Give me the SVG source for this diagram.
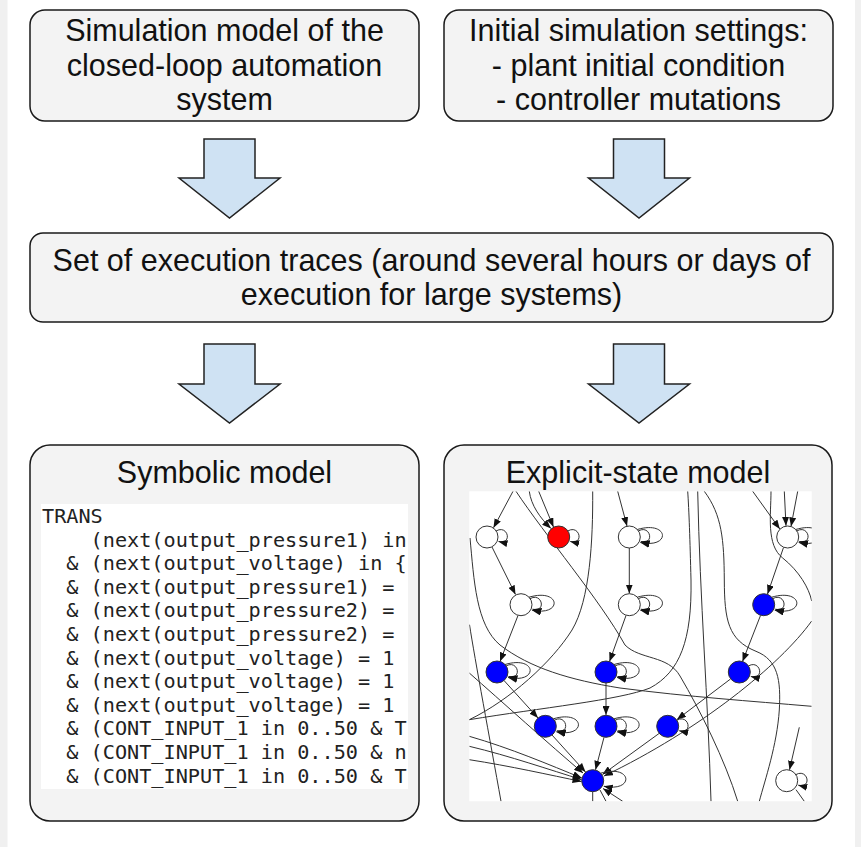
<svg xmlns="http://www.w3.org/2000/svg" xmlns:xlink="http://www.w3.org/1999/xlink" width="861" height="847" viewBox="0 0 861 847">
<style>
.box{fill:#f3f3f3;stroke:#1a1a1a;stroke-width:1.5}
.t{font-family:"Liberation Sans",Arial,sans-serif;font-size:30.5px;fill:#111;text-anchor:middle}
.code{font-family:"DejaVu Sans Mono",monospace;font-size:20.2px;fill:#222}
.blk{fill:#cfe2f3;stroke:#222;stroke-width:1.5;stroke-linejoin:miter}
.e{fill:none;stroke:#333;stroke-width:1}
.ea{fill:none;stroke:#333;stroke-width:1;marker-end:url(#ah)}
.nw{fill:#fff;stroke:#333;stroke-width:1}
.nb{fill:#0000ff;stroke:#333;stroke-width:1}
.nr{fill:#ff0000;stroke:#333;stroke-width:1}
</style>
<defs>
<marker id="ah" markerUnits="userSpaceOnUse" markerWidth="9" markerHeight="7" refX="9" refY="3.5" orient="auto">
<path d="M0,0 L9,3.5 L0,7 z" fill="#111"/>
</marker>
<path id="loopS" class="ea" d="M9,-6 C21,-13 26,8 11.5,4.5"/>
<g id="loopD">
<path class="ea" d="M9,-6 C21,-13 26,8 11.5,4.5"/>
<path class="ea" d="M8,-7.5 C40,-17 42,12 11,5.5"/>
</g>
<path id="loopL" class="ea" d="M8,-7.5 C40,-17 42,12 11,5.5"/>
<clipPath id="gclip"><rect x="469.3" y="491.3" width="342.4" height="310"/></clipPath>
<clipPath id="cclip"><rect x="41" y="504" width="367" height="285"/></clipPath>
</defs>

<rect x="0" y="0" width="861" height="847" fill="#fff"/>
<rect x="0" y="0" width="7.5" height="847" fill="#f0f0f0"/>
<rect x="855" y="0" width="6" height="847" fill="#f0f0f0"/>

<g id="node-simulation-model">
<rect class="box" x="30" y="10" width="389" height="111" rx="15"/>
<text class="t" x="224.5" y="40.5">Simulation model of the</text>
<text class="t" x="224.5" y="75.5">closed-loop automation</text>
<text class="t" x="224.5" y="110">system</text>
</g>

<g id="node-initial-settings">
<rect class="box" x="444" y="10" width="389" height="111" rx="15"/>
<text class="t" x="638.5" y="40.5">Initial simulation settings:</text>
<text class="t" x="638.5" y="75.5">- plant initial condition</text>
<text class="t" x="638.5" y="110">- controller mutations</text>
</g>

<g id="node-execution-traces">
<rect class="box" x="30" y="233" width="803" height="89" rx="13"/>
<text class="t" x="431.5" y="271">Set of execution traces (around several hours or days of</text>
<text class="t" x="431.5" y="305">execution for large systems)</text>
</g>

<g id="node-symbolic-model">
<rect class="box" x="30" y="445" width="389" height="376" rx="20"/>
<text class="t" x="224.5" y="483">Symbolic model</text>
<rect x="41" y="504" width="367" height="285" fill="#fff"/>
<g clip-path="url(#cclip)" class="code">
<text x="42" y="523">TRANS</text>
<text x="90.6" y="546.6">(next(output_pressure1) in</text>
<text x="66.3" y="570.2">&amp; (next(output_voltage) in {</text>
<text x="66.3" y="593.8">&amp; (next(output_pressure1) =</text>
<text x="66.3" y="617.4">&amp; (next(output_pressure2) =</text>
<text x="66.3" y="641">&amp; (next(output_pressure2) =</text>
<text x="66.3" y="664.6">&amp; (next(output_voltage) = 1</text>
<text x="66.3" y="688.2">&amp; (next(output_voltage) = 1</text>
<text x="66.3" y="711.8">&amp; (next(output_voltage) = 1</text>
<text x="66.3" y="735.4">&amp; (CONT_INPUT_1 in 0..50 &amp; T</text>
<text x="66.3" y="759">&amp; (CONT_INPUT_1 in 0..50 &amp; n</text>
<text x="66.3" y="782.6">&amp; (CONT_INPUT_1 in 0..50 &amp; T</text>
</g>
</g>

<g id="node-explicit-state-model">
<rect class="box" x="444" y="445" width="388" height="376" rx="20"/>
<text class="t" x="638" y="483">Explicit-state model</text>
<rect x="469.3" y="491.3" width="342.4" height="310" fill="#fff"/>
<g clip-path="url(#gclip)">
<g id="graph-edges">
<path class="e" d="M470,538 C474,580 476,625 500,645 C530,668 570,680 620,688 C690,697 750,701 811.7,706.3"/>
<path class="e" d="M469.5,624.7 C475,660 490,740 501,801.3"/>
<path class="e" d="M516,491.3 C545,535 600,600 625,645 C640,660 668,655 680,676 C700,710 725,760 737.7,801.3"/>
<path class="e" d="M592.7,491.3 C593,540 590,600 572,630 C552,662 510,700 469.3,719.7"/>
<path class="e" d="M469.3,719.7 C540,708 620,700 650,688 C680,672 692,640 691,580 C690,540 689,510 687.7,491.3"/>
<path class="e" d="M697.7,491.3 C700,600 708,700 711,801.3"/>
<path class="e" d="M704.3,491.3 C722,515 724,540 724.3,580 C724.5,620 728,640 756,651.3 C778,660 781,680 779.3,710 C777,745 765,780 759.3,801.3"/>
<path class="e" d="M771,491.3 C771,515 766,545 782.7,558 C799,571 809,588 811.7,601"/>
<path class="ea" d="M513,491.3 L493.5,527.8"/>
<path class="ea" d="M538.7,491.3 L553.5,527"/>
<path class="ea" d="M529.3,491.3 C531,505 540,518 551,528.5"/>
<path class="ea" d="M617.7,491.3 L627,526"/>
<path class="ea" d="M752.7,491.3 L779.8,529"/>
<path class="ea" d="M784.3,491.3 L786,525.8"/>
<path class="ea" d="M797.7,491.3 L791,526.4"/>
<path class="ea" d="M492,547 L515.5,594.5"/>
<path class="ea" d="M629.3,548 L629.3,593.5"/>
<path class="ea" d="M783.5,547.5 L767.5,594"/>
<path class="ea" d="M518,615.5 L500,661.5"/>
<path class="ea" d="M626,615.5 L609.5,661.5"/>
<path class="ea" d="M760.5,615.5 L742.5,661.5"/>
<path class="ea" d="M504,680.5 L538,718"/>
<path class="ea" d="M606,683 L606,715"/>
<path class="ea" d="M730.5,679 L677,719.5"/>
<path class="ea" d="M552,735 L585.5,772"/>
<path class="ea" d="M604,737.3 L595.5,769.8"/>
<path class="ea" d="M659,733.5 L602.5,774.5"/>
<path class="ea" d="M469.3,736.3 C510,748 550,765 581.8,778"/>
<path class="ea" d="M469.3,746.3 C510,756 550,770 581.5,779.5"/>
<path class="ea" d="M469.3,759.7 C510,766 550,775 581.5,781.5"/>
<path class="ea" d="M469.3,673 C500,700 550,745 583,773"/>
<path class="ea" d="M811.7,621 C780,665 700,730 604,776"/>
<path class="ea" d="M799.3,727.3 L789.5,769.8"/>
<path class="e" d="M796,789.7 L804.3,801.3"/>
<path class="e" d="M592.7,791.7 L592.7,801.3"/>
<path class="e" d="M600,790 L606,801.3"/>
<path class="ea" d="M622.7,801.3 L603,788.5"/>
</g>
<g id="graph-nodes">
<circle class="nw" cx="487" cy="537" r="11"/><use xlink:href="#loopS" x="487" y="537"/>
<circle class="nr" cx="558.7" cy="537" r="11"/><use xlink:href="#loopS" x="558.7" y="537"/>
<circle class="nw" cx="629.3" cy="537" r="11"/><use xlink:href="#loopD" x="629.3" y="537"/>
<circle class="nw" cx="787.7" cy="537" r="11"/><use xlink:href="#loopD" x="787.7" y="537"/>
<circle class="nw" cx="521" cy="604.7" r="11"/><use xlink:href="#loopD" x="521" y="604.7"/>
<circle class="nw" cx="629.3" cy="604.7" r="11"/><use xlink:href="#loopD" x="629.3" y="604.7"/>
<circle class="nb" cx="763.7" cy="604.7" r="11"/><use xlink:href="#loopD" x="763.7" y="604.7"/>
<circle class="nb" cx="497" cy="672" r="11"/><use xlink:href="#loopD" x="497" y="672"/>
<circle class="nb" cx="606" cy="672" r="11"/><use xlink:href="#loopD" x="606" y="672"/>
<circle class="nb" cx="739.3" cy="672" r="11"/><use xlink:href="#loopS" x="739.3" y="672"/>
<circle class="nb" cx="545.3" cy="726.3" r="11"/><use xlink:href="#loopD" x="545.3" y="726.3"/>
<circle class="nb" cx="606" cy="726.3" r="11"/><use xlink:href="#loopD" x="606" y="726.3"/>
<circle class="nb" cx="667.7" cy="726.3" r="11"/><use xlink:href="#loopS" x="667.7" y="726.3"/>
<circle class="nb" cx="592.7" cy="780.7" r="11"/><use xlink:href="#loopL" x="592.7" y="780.7"/>
<circle class="nw" cx="786.7" cy="780.7" r="11"/><use xlink:href="#loopS" x="786.7" y="780.7"/>
</g>
</g>
</g>

<g id="connectors">
<polygon class="blk" points="204,139 255,139 255,178 280,178 229.5,218 179,178 204,178"/>
<polygon class="blk" points="613.5,139 664.5,139 664.5,178 689.5,178 639,218 588.5,178 613.5,178"/>
<polygon class="blk" points="204,344 255,344 255,384 280,384 229.5,423 179,384 204,384"/>
<polygon class="blk" points="613.5,344 664.5,344 664.5,384 689.5,384 639,423 588.5,384 613.5,384"/>
</g>
</svg>
